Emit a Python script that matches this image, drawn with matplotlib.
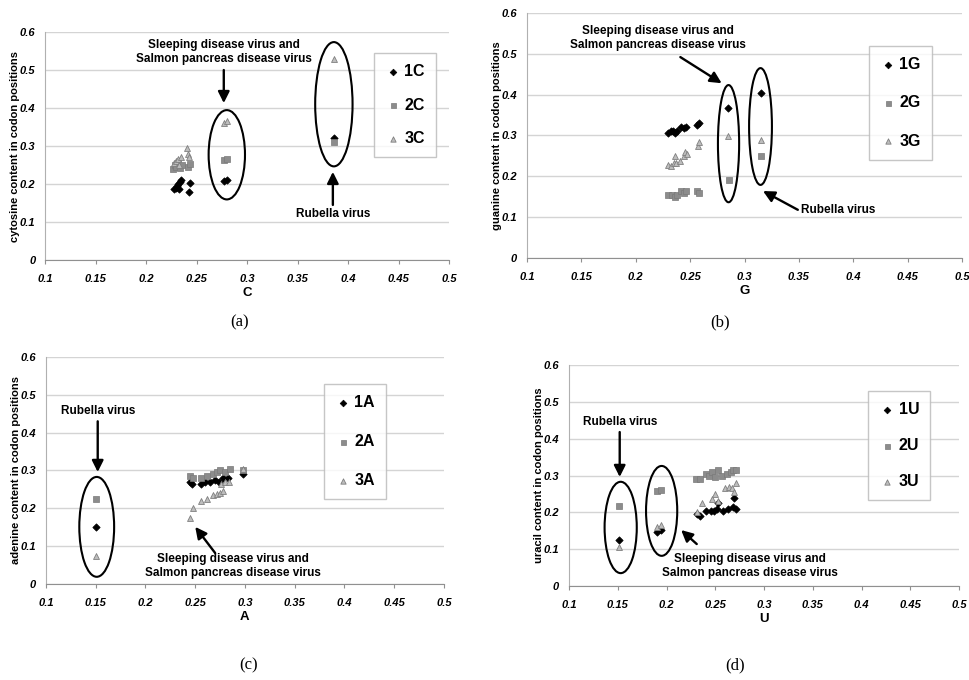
import matplotlib
matplotlib.use("Agg")
import matplotlib.pyplot as plt
from matplotlib.patches import Ellipse

plt.rcParams["font.family"] = ["Liberation Sans", "DejaVu Sans"]

# ---- data: (x, y) per codon position series ----
# (a) cytosine
c1_x = [0.228, 0.230, 0.231, 0.232, 0.233, 0.234, 0.235, 0.243, 0.244, 0.277, 0.280, 0.386]
c1_y = [0.186, 0.190, 0.195, 0.200, 0.188, 0.205, 0.210, 0.180, 0.203, 0.208, 0.210, 0.320]
c2_x = [0.227, 0.229, 0.230, 0.232, 0.234, 0.236, 0.242, 0.244, 0.277, 0.280, 0.386]
c2_y = [0.240, 0.250, 0.245, 0.255, 0.242, 0.250, 0.245, 0.252, 0.263, 0.266, 0.310]
c3_x = [0.228, 0.230, 0.232, 0.233, 0.235, 0.241, 0.242, 0.243, 0.277, 0.280, 0.386]
c3_y = [0.255, 0.260, 0.265, 0.250, 0.270, 0.295, 0.280, 0.270, 0.360, 0.365, 0.530]

# (b) guanine
g1_x = [0.230, 0.232, 0.234, 0.236, 0.238, 0.242, 0.244, 0.246, 0.256, 0.258, 0.285, 0.315]
g1_y = [0.305, 0.310, 0.312, 0.305, 0.310, 0.320, 0.318, 0.320, 0.325, 0.330, 0.367, 0.403]
g2_x = [0.230, 0.233, 0.236, 0.238, 0.242, 0.244, 0.246, 0.256, 0.258, 0.286, 0.315]
g2_y = [0.155, 0.155, 0.150, 0.155, 0.165, 0.160, 0.165, 0.165, 0.160, 0.190, 0.250]
g3_x = [0.230, 0.232, 0.235, 0.236, 0.237, 0.241, 0.244, 0.245, 0.247, 0.257, 0.258, 0.285, 0.315]
g3_y = [0.228, 0.225, 0.232, 0.250, 0.232, 0.238, 0.250, 0.260, 0.255, 0.275, 0.285, 0.298, 0.290]

# (c) adenine
a1_x = [0.150, 0.245, 0.247, 0.256, 0.260, 0.265, 0.270, 0.274, 0.278, 0.283, 0.298]
a1_y = [0.150, 0.270, 0.265, 0.265, 0.270, 0.270, 0.275, 0.270, 0.280, 0.280, 0.290]
a2_x = [0.150, 0.245, 0.248, 0.256, 0.262, 0.268, 0.272, 0.275, 0.280, 0.285, 0.298]
a2_y = [0.225, 0.285, 0.280, 0.280, 0.285, 0.290, 0.295, 0.300, 0.295, 0.305, 0.300]
a3_x = [0.150, 0.245, 0.248, 0.256, 0.262, 0.268, 0.272, 0.275, 0.278, 0.276, 0.280, 0.284, 0.298]
a3_y = [0.073, 0.175, 0.200, 0.220, 0.225, 0.235, 0.238, 0.240, 0.245, 0.265, 0.270, 0.270, 0.305]

# (d) uracil
u1_x = [0.151, 0.190, 0.194, 0.231, 0.234, 0.240, 0.246, 0.249, 0.252, 0.253, 0.258, 0.263, 0.268, 0.269, 0.271]
u1_y = [0.125, 0.147, 0.153, 0.195, 0.190, 0.205, 0.205, 0.205, 0.210, 0.225, 0.205, 0.210, 0.215, 0.240, 0.210]
u2_x = [0.151, 0.190, 0.194, 0.230, 0.234, 0.240, 0.244, 0.247, 0.250, 0.253, 0.257, 0.262, 0.266, 0.268, 0.271]
u2_y = [0.218, 0.257, 0.262, 0.290, 0.290, 0.305, 0.300, 0.310, 0.295, 0.315, 0.300, 0.305, 0.310, 0.315, 0.315]
u3_x = [0.151, 0.190, 0.194, 0.231, 0.236, 0.247, 0.250, 0.253, 0.260, 0.264, 0.267, 0.269, 0.271]
u3_y = [0.107, 0.160, 0.165, 0.200, 0.225, 0.235, 0.250, 0.230, 0.265, 0.270, 0.265, 0.255, 0.280]

xticks = [0.1, 0.15, 0.2, 0.25, 0.3, 0.35, 0.4, 0.45, 0.5]
xticklabels = ["0.1", "0.15", "0.2", "0.25", "0.3", "0.35", "0.4", "0.45", "0.5"]
yticks = [0, 0.1, 0.2, 0.3, 0.4, 0.5, 0.6]
yticklabels = ["0", "0.1", "0.2", "0.3", "0.4", "0.5", "0.6"]

SDV = "Sleeping disease virus and\nSalmon pancreas disease virus"
RUB = "Rubella virus"

fig = plt.figure(figsize=(9.7, 6.8), dpi=100, facecolor="white")

panels = [
    dict(rect=[0.0464, 0.6176, 0.4165, 0.3353], base="C", nuc="cytosine",
         data=[(c1_x, c1_y), (c2_x, c2_y), (c3_x, c3_y)],
         leg=(0.814, 0.908), ls=1.15,
         ellipses=[(0.280, 0.277, 0.036, 0.235), (0.386, 0.410, 0.037, 0.327)],
         texts=[(0.277, 0.547, SDV, "center"), (0.385, 0.121, RUB, "center")],
         arrows=[((0.277, 0.413), (0.277, 0.500)), ((0.385, 0.232), (0.385, 0.145))],
         cap=(0.247, 0.526, "(a)")),
    dict(rect=[0.5433, 0.6206, 0.4485, 0.3603], base="G", nuc="guanine",
         data=[(g1_x, g1_y), (g2_x, g2_y), (g3_x, g3_y)],
         leg=(0.786, 0.865), ls=1.45,
         ellipses=[(0.2853, 0.280, 0.0195, 0.287), (0.3147, 0.322, 0.021, 0.286)],
         texts=[(0.2205, 0.539, SDV, "center"), (0.352, 0.118, RUB, "left")],
         arrows=[((0.279, 0.428), (0.241, 0.492)), ((0.317, 0.164), (0.349, 0.118))],
         cap=(0.742, 0.526, "(b)")),
    dict(rect=[0.0474, 0.1412, 0.4103, 0.3338], base="A", nuc="adenine",
         data=[(a1_x, a1_y), (a2_x, a2_y), (a3_x, a3_y)],
         leg=(0.698, 0.881), ls=1.5,
         ellipses=[(0.151, 0.151, 0.035, 0.264)],
         texts=[(0.152, 0.458, RUB, "center"), (0.288, 0.048, SDV, "center")],
         arrows=[((0.152, 0.296), (0.152, 0.430)), ((0.250, 0.151), (0.270, 0.082))],
         cap=(0.256, 0.022, "(c)")),
    dict(rect=[0.5866, 0.1382, 0.4021, 0.3250], base="U", nuc="uracil",
         data=[(u1_x, u1_y), (u2_x, u2_y), (u3_x, u3_y)],
         leg=(0.767, 0.882), ls=1.3,
         ellipses=[(0.153, 0.159, 0.033, 0.248), (0.195, 0.204, 0.032, 0.244)],
         texts=[(0.152, 0.446, RUB, "center"), (0.286, 0.054, SDV, "center")],
         arrows=[((0.152, 0.296), (0.152, 0.418)), ((0.215, 0.152), (0.231, 0.114))],
         cap=(0.758, 0.022, "(d)")),
]

styles = [
    dict(marker="D", s=14, color="black", edgecolors="black", linewidths=0.5),
    dict(marker="s", s=16, color="#8c8c8c", edgecolors="#7a7a7a", linewidths=0.5),
    dict(marker="^", s=18, color="#bdbdbd", edgecolors="#7f7f7f", linewidths=0.6),
]

for p in panels:
    ax = fig.add_axes(p["rect"])
    ax.set_xlim(0.1, 0.5)
    ax.set_ylim(0, 0.6)
    ax.set_xticks(xticks)
    ax.set_xticklabels(xticklabels)
    ax.set_yticks(yticks)
    ax.set_yticklabels(yticklabels)
    ax.grid(axis="y", color="#d4d4d4", lw=1.0)
    ax.set_axisbelow(True)
    for sp in ["top", "right"]:
        ax.spines[sp].set_visible(False)
    ax.spines["left"].set_color("#b0b0b0")
    ax.spines["bottom"].set_color("#909090")
    ax.tick_params(axis="x", labelsize=8, length=3, color="#909090", pad=7)
    ax.tick_params(axis="y", labelsize=8, length=0, pad=7)
    for lab in ax.get_xticklabels() + ax.get_yticklabels():
        lab.set_fontweight("bold")
        lab.set_fontstyle("italic")
    ax.set_xlabel(p["base"], fontsize=9.5, fontweight="bold", labelpad=2)
    ax.set_ylabel(p["nuc"] + " content in codon positions", fontsize=8,
                  fontweight="bold", labelpad=0)

    for (xs, ys), st, n in zip(p["data"], styles, ["1", "2", "3"]):
        ax.scatter(xs, ys, label=n + p["base"], zorder=3, **st)

    for cx, cy, w, h in p["ellipses"]:
        ax.add_patch(Ellipse((cx, cy), w, h, fill=False, ec="black", lw=1.5, zorder=4))

    for tx, ty, t, ha in p["texts"]:
        ax.text(tx, ty, t, ha=ha, va="center", fontsize=8.5, fontweight="bold",
                linespacing=1.2)

    for (hx, hy), (sx, sy) in p["arrows"]:
        ax.annotate("", xy=(hx, hy), xytext=(sx, sy),
                    arrowprops=dict(arrowstyle="-|>", color="black", lw=1.7,
                                    mutation_scale=17, shrinkA=0, shrinkB=0))

    leg = ax.legend(loc="upper left", bbox_to_anchor=p["leg"], frameon=True,
                    fancybox=False, edgecolor="#b8b8b8", fontsize=11.5,
                    labelspacing=p["ls"], borderpad=0.7, handletextpad=0.2,
                    handlelength=1.0, markerscale=0.9, borderaxespad=0)
    leg.get_frame().set_linewidth(1.0)
    for t in leg.get_texts():
        t.set_fontweight("bold")

    fig.text(p["cap"][0], p["cap"][1], p["cap"][2], ha="center", va="center",
             fontsize=12, family=["Liberation Serif", "DejaVu Serif"])

plt.savefig("out.png", dpi=100)
